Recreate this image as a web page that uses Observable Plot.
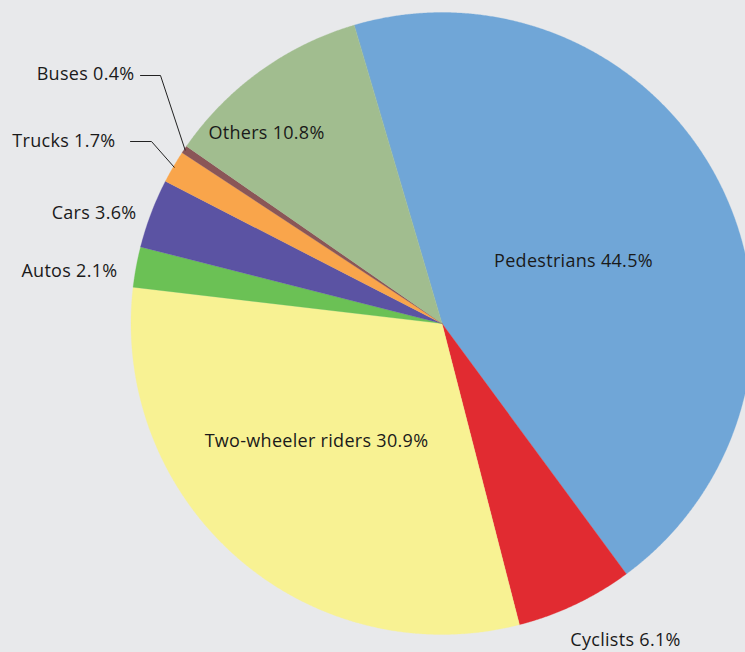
<!DOCTYPE html>
<html>
<head>
<meta charset="utf-8">
<script src="https://cdn.jsdelivr.net/npm/d3@7"></script>
<script src="https://cdn.jsdelivr.net/npm/@observablehq/plot@0.6"></script>
<style>
  html, body { margin: 0; padding: 0; background: #e8e9eb; }
  #chart { width: 745px; height: 652px; overflow: hidden; }
  #chart text { letter-spacing: 0.3px; }
</style>
</head>
<body>
<div id="chart"></div>
<script>
// ---- data ----
const categories = ["Pedestrians", "Cyclists", "Two-wheeler riders", "Autos", "Cars", "Trucks", "Buses", "Others"];
const shares = [44.5, 6.1, 30.9, 2.1, 3.6, 1.7, 0.4, 10.8];
const colors = ["#70a6d7", "#e12b31", "#f8f293", "#6bc155", "#5b53a3", "#f9a54b", "#8a5657", "#a1bd8f"];

// ---- layout ----
const W = 745, H = 652;
const cx = 441.5, cy = 323, R = 311;
const startDeg = -16.4;
// label anchor positions (pixel), text anchor
const labelPos = {
  "Pedestrians": [573, 261, "middle"],
  "Cyclists": [625, 640, "middle"],
  "Two-wheeler riders": [316, 441, "middle"],
  "Autos": [117, 271, "end"],
  "Cars": [136, 213, "end"],
  "Trucks": [115, 141, "end"],
  "Buses": [134, 74, "end"],
  "Others": [266, 133, "middle"]
};
const leaders = { "Buses": [[140, 75], [160, 75]], "Trucks": [[130, 141], [151, 141]] };

const total = d3.sum(shares);
const pt = (deg, r) => [cx + r * Math.sin(deg * Math.PI / 180), cy - r * Math.cos(deg * Math.PI / 180)];

let acc = 0;
const slices = categories.map((c, i) => {
  const a0 = startDeg + acc / total * 360;
  acc += shares[i];
  const a1 = startDeg + acc / total * 360;
  const ring = [[cx, cy]];
  const n = Math.max(2, Math.ceil((a1 - a0) / 0.25));
  for (let k = 0; k <= n; k++) ring.push(pt(a0 + (a1 - a0) * k / n, R));
  ring.push([cx, cy]);
  return {
    type: "Feature",
    properties: { name: c, share: shares[i], color: colors[i], mid: (a0 + a1) / 2 },
    geometry: { type: "Polygon", coordinates: [ring] }
  };
});

const labels = categories.map((c, i) => ({
  text: `${c} ${shares[i].toFixed(1)}%`,
  x: labelPos[c][0], y: labelPos[c][1], anchor: labelPos[c][2]
}));

const leaderLines = [];
for (const f of slices) {
  const l = leaders[f.properties.name];
  if (!l) continue;
  const end = pt(f.properties.mid, R - 1);
  leaderLines.push({ pts: [l[0], l[1], end] });
}
const leaderSegs = leaderLines.flatMap((l, j) => l.pts.map(p => ({ id: j, x: p[0], y: p[1] })));

const chart = Plot.plot({
  width: W,
  height: H,
  margin: 0,
  style: { background: "#e8e9eb", fontFamily: "'Open Sans', sans-serif" },
  projection: () => d3.geoIdentity(),
  marks: [
    Plot.geo(slices, { fill: d => d.properties.color, stroke: d => d.properties.color, strokeWidth: 0.3 }),
    Plot.line(leaderSegs, { x: "x", y: "y", z: "id", stroke: "#222", strokeWidth: 1, curve: "linear" }),
    Plot.text(labels.filter(d => d.anchor === "middle"), { x: "x", y: "y", text: "text", textAnchor: "middle", fontSize: 18, fill: "#1a1a1a" }),
    Plot.text(labels.filter(d => d.anchor === "end"), { x: "x", y: "y", text: "text", textAnchor: "end", fontSize: 18, fill: "#1a1a1a" })
  ]
});
document.getElementById("chart").appendChild(chart);
</script>
</body>
</html>
